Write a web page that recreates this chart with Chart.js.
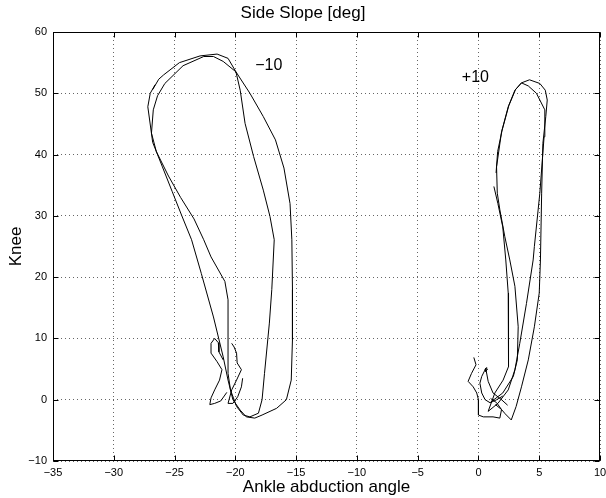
<!DOCTYPE html>
<html>
<head>
<meta charset="utf-8">
<script src="https://cdn.jsdelivr.net/npm/chart.js@4"></script>
<style>
  html, body { margin: 0; padding: 0; background: #fff; }
  #wrap { width: 606px; height: 498px; }
</style>
</head>
<body>
<div id="wrap"><canvas id="c"></canvas></div>
<script>
// tick values
const xTicks = [-35, -30, -25, -20, -15, -10, -5, 0, 5, 10];
const yTicks = [-10, 0, 10, 20, 30, 40, 50, 60];

// side slope -10 : two gait cycles + small wiggles at toe-off
const minus10A = [[-26.8,50.6],[-26.3,52.3],[-25.9,53.0],[-24.6,55.0],[-22.9,56.1],[-21.5,56.4],[-20.6,55.7],[-19.95,53.5],
  [-18.8,50.0],[-17.7,46.2],[-16.7,42.4],[-16.0,37.8],[-15.5,32.0],[-15.35,26.1],[-15.3,18.0],[-15.3,9.8],[-15.4,3.2],
  [-15.8,0.0],[-16.6,-1.4],[-17.8,-2.5],[-18.4,-3.0],[-19.1,-2.8],[-19.6,-1.7],[-20.2,0.0],[-20.6,3.2],[-21.0,7.0],
  [-21.8,13.5],[-22.8,20.6],[-23.6,26.1],[-24.4,30.0],[-25.2,34.0],[-26.0,38.0],[-26.8,42.0],[-27.2,47.8],[-27.0,50.0],[-26.6,51.4]];
const minus10B = [[-26.75,47.3],[-26.4,49.6],[-25.8,51.6],[-24.3,54.5],[-22.6,56.0],[-21.8,56.0],[-21.0,55.2],[-19.95,53.5],
  [-19.6,50.5],[-19.2,45.1],[-18.5,39.7],[-17.7,34.2],[-17.15,29.9],[-16.8,26.1],[-17.0,18.0],[-17.2,12.5],[-17.6,4.3],
  [-17.8,0.0],[-18.1,-2.2],[-18.8,-2.8],[-19.35,-2.5],[-19.9,-1.1],[-20.4,1.6],[-20.6,4.3],[-20.6,9.8],[-20.6,16.3],
  [-20.86,19.3],[-22.0,23.3],[-22.6,26.1],[-23.4,29.5],[-24.5,33.0],[-25.5,36.5],[-26.5,40.5],[-26.9,43.5],[-26.75,47.3]];
const minus10W1 = [[-20.7,1.2],[-21.2,-0.2],[-21.7,-0.6],[-22.1,-0.8],[-22.0,0.3],[-21.7,1.6],[-21.3,3.2],[-21.1,4.9],
  [-21.5,6.2],[-22.0,7.6],[-22.0,9.2],[-21.7,10.0],[-21.4,9.3],[-21.35,7.8],[-21.0,6.5]];
const minus10W2 = [[-20.3,9.2],[-20.1,8.6],[-19.9,7.6],[-19.85,6.0],[-19.5,4.9],[-19.9,3.2],[-20.3,1.6],[-20.6,-0.6],
  [-20.2,-0.6],[-19.8,0.5],[-19.5,2.1],[-19.4,3.5]];

// side slope +10
const plus10A = [[1.0,-0.4],[2.0,1.1],[2.87,3.8],[3.2,6.5],[3.27,11.9],[3.0,18.5],[2.58,22.8],[2.17,26.6],[1.76,31.0],
  [1.55,33.7],[1.49,38.0],[1.9,43.7],[2.45,47.8],[3.0,50.5],[3.54,51.7],[4.2,52.2],[5.05,51.6],[5.5,50.5],[5.66,48.9],
  [5.54,46.2],[5.3,41.8],[5.2,33.7],[5.1,22.8],[5.0,17.4],[4.6,11.9],[4.1,6.5],[3.54,2.1],[3.1,-1.1],[2.7,-3.3],
  [2.2,-2.3],[1.9,-1.6],[1.4,-0.8]];
const plus10B = [[1.27,34.8],[1.6,32.0],[2.0,28.2],[2.25,22.8],[2.45,17.4],[2.5,9.2],[2.45,5.4],[2.03,3.2],[1.35,1.1],
  [0.8,-1.9],[1.6,-0.6],[2.45,1.6],[3.0,4.9],[3.4,9.2],[3.95,15.7],[4.5,22.8],[4.6,25.0],[5.05,33.7],[5.4,42.9],
  [5.46,47.3],[4.77,50.0],[4.1,51.2],[3.54,51.7]];
const plus10C = [[1.45,37.0],[1.58,40.5],[1.95,44.0],[2.5,48.0],[3.05,50.6],[3.54,51.7]];
const plus10W1 = [[-0.38,6.9],[-0.2,5.7],[-0.57,4.3],[-0.85,3.0],[-0.43,2.1],[-0.14,1.1],[0.0,0.0],[0.0,-2.5],
  [0.4,-2.8],[1.2,-2.8],[1.76,-3.0],[1.9,-1.6],[1.5,-0.5],[1.0,0.2]];
const plus10W2 = [[0.7,5.3],[0.55,5.0],[0.6,4.6],[0.75,5.0],[0.6,5.1],[0.27,3.8],[0.12,2.7],[0.27,1.1],[0.55,0.0],
  [0.96,-0.5],[1.5,0.0],[2.0,0.6]];
const plus10W3 = [[0.6,5.1],[0.8,3.0],[1.2,1.1],[1.9,0.0],[2.4,-0.9]];

// curve labels
const curveLabels = ['\u221210', '+10'];
const labelX = [-17.25, -0.25];
const labelY = [54.6, 52.6];

const paths = [minus10A, minus10B, minus10W1, minus10W2, plus10A, plus10B, plus10C, plus10W1, plus10W2, plus10W3];

const fontFam = '"Liberation Sans", Arial, Helvetica, sans-serif';
const minus = v => String(v).replace('-', '\u2212');

// box around the axes + inward tick marks (matlab style)
const frame = {
  id: 'frame',
  afterDraw(chart) {
    const {ctx, chartArea: a, scales: {x, y}} = chart;
    const tl = 5;
    ctx.save();
    ctx.strokeStyle = '#000';
    ctx.lineWidth = 1;
    const L = Math.round(a.left) + 0.5, R = Math.round(a.right) - 0.5;
    const T = Math.round(a.top) + 0.5, B = Math.round(a.bottom) - 0.5;
    ctx.strokeRect(L, T, R - L, B - T);
    ctx.beginPath();
    for (const v of xTicks) {
      const px = Math.round(x.getPixelForValue(v)) + 0.5;
      ctx.moveTo(px, B); ctx.lineTo(px, B - tl);
      ctx.moveTo(px, T); ctx.lineTo(px, T + tl);
    }
    for (const v of yTicks) {
      const py = Math.round(y.getPixelForValue(v)) + 0.5;
      ctx.moveTo(L, py); ctx.lineTo(L + tl, py);
      ctx.moveTo(R, py); ctx.lineTo(R - tl, py);
    }
    ctx.stroke();
    ctx.restore();
  }
};

const curveText = {
  id: 'curveText',
  afterDatasetsDraw(chart) {
    const {ctx, scales: {x, y}} = chart;
    ctx.save();
    ctx.fillStyle = '#000';
    ctx.font = '16px ' + fontFam;
    ctx.textAlign = 'center';
    ctx.textBaseline = 'middle';
    for (let i = 0; i < curveLabels.length; i += 1)
      ctx.fillText(curveLabels[i], x.getPixelForValue(labelX[i]), y.getPixelForValue(labelY[i]));
    ctx.restore();
  }
};

const ctx = document.getElementById('c').getContext('2d');
new Chart(ctx, {
  type: 'scatter',
  data: {
    datasets: paths.map(p => ({
      data: p.map(q => ({x: q[0], y: q[1]})),
      showLine: true,
      borderColor: '#000',
      borderWidth: 1,
      pointRadius: 0,
      tension: 0,
      fill: false
    }))
  },
  options: {
    responsive: true,
    maintainAspectRatio: false,
    animation: false,
    events: [],
    layout: { padding: { left: 0, right: 0, top: 0, bottom: 0 } },
    plugins: {
      legend: { display: false },
      tooltip: { enabled: false },
      title: {
        display: true,
        text: 'Side Slope [deg]',
        color: '#000',
        font: { family: fontFam, size: 17, weight: 'normal' },
        padding: { top: 3, bottom: 8.6 }
      }
    },
    scales: {
      x: {
        type: 'linear',
        min: -35, max: 10,
        afterBuildTicks: s => { s.ticks = xTicks.map(v => ({value: v})); },
        afterFit: s => { s.height = 37; s.paddingRight = 6; s.paddingLeft = 0; },
        ticks: { color: '#000', font: { family: fontFam, size: 11 }, padding: 5.5, maxRotation: 0, autoSkip: false,
                 callback: v => minus(v) },
        grid: { color: 'rgba(0,0,0,0.6)', lineWidth: 1, drawTicks: false },
        border: { display: false, dash: [1, 3] },
        title: { display: true, text: 'Ankle abduction angle', color: '#000',
                 font: { family: fontFam, size: 17 }, padding: { top: 0, bottom: 0 } }
      },
      y: {
        type: 'linear',
        min: -10, max: 60,
        afterBuildTicks: s => { s.ticks = yTicks.map(v => ({value: v})); },
        afterFit: s => { s.width = 53; },
        ticks: { color: '#000', font: { family: fontFam, size: 11 }, padding: 6, autoSkip: false,
                 callback: v => minus(v) },
        grid: { color: 'rgba(0,0,0,0.6)', lineWidth: 1, drawTicks: false },
        border: { display: false, dash: [1, 3] },
        title: { display: true, text: 'Knee', color: '#000',
                 font: { family: fontFam, size: 17 }, padding: { top: 6, bottom: 0 } }
      }
    }
  },
  plugins: [frame, curveText]
});
</script>
</body>
</html>
